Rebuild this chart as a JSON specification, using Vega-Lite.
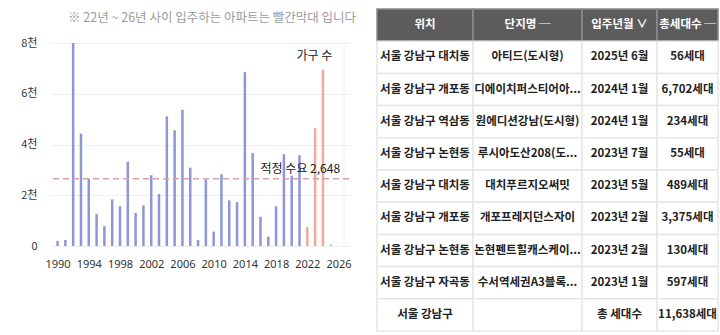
{
  "$schema": "https://vega.github.io/schema/vega-lite/v6.json",
  "background": "white",
  "padding": {"left": 20, "top": 8, "right": 0, "bottom": 0},
  "config": {
    "font": "Noto Sans CJK KR",
    "view": {"stroke": null}
  },
  "datasets": {
    "supply": [
      {"연도": 1990, "가구수": 200},
      {"연도": 1991, "가구수": 240},
      {"연도": 1992, "가구수": 8000},
      {"연도": 1993, "가구수": 4430},
      {"연도": 1994, "가구수": 2640},
      {"연도": 1995, "가구수": 1260},
      {"연도": 1996, "가구수": 780},
      {"연도": 1997, "가구수": 1840},
      {"연도": 1998, "가구수": 1570},
      {"연도": 1999, "가구수": 3320},
      {"연도": 2000, "가구수": 1300},
      {"연도": 2001, "가구수": 1600},
      {"연도": 2002, "가구수": 2790},
      {"연도": 2003, "가구수": 2050},
      {"연도": 2004, "가구수": 5110},
      {"연도": 2005, "가구수": 4560},
      {"연도": 2006, "가구수": 5370},
      {"연도": 2007, "가구수": 3090},
      {"연도": 2008, "가구수": 240},
      {"연도": 2009, "가구수": 2620},
      {"연도": 2010, "가구수": 570},
      {"연도": 2011, "가구수": 2830},
      {"연도": 2012, "가구수": 1800},
      {"연도": 2013, "가구수": 1730},
      {"연도": 2014, "가구수": 6850},
      {"연도": 2015, "가구수": 3660},
      {"연도": 2016, "가구수": 1150},
      {"연도": 2017, "가구수": 370},
      {"연도": 2018, "가구수": 1570},
      {"연도": 2019, "가구수": 3620},
      {"연도": 2020, "가구수": 2770},
      {"연도": 2021, "가구수": 3580},
      {"연도": 2022, "가구수": 740},
      {"연도": 2023, "가구수": 4646},
      {"연도": 2024, "가구수": 6936},
      {"연도": 2025, "가구수": 56}
    ],
    "complex": [
      {"행": 0, "구분": "header", "위치": "위치", "단지명": "단지명 ─", "입주년월": "입주년월 ∨", "총세대수": "총세대수 ─"},
      {"행": 1, "구분": "body", "위치": "서울 강남구 대치동", "단지명": "아티드(도시형)", "입주년월": "2025년 6월", "총세대수": "56세대"},
      {"행": 2, "구분": "body", "위치": "서울 강남구 개포동", "단지명": "디에이치퍼스티어아...", "입주년월": "2024년 1월", "총세대수": "6,702세대"},
      {"행": 3, "구분": "body", "위치": "서울 강남구 역삼동", "단지명": "원에디션강남(도시형)", "입주년월": "2024년 1월", "총세대수": "234세대"},
      {"행": 4, "구분": "body", "위치": "서울 강남구 논현동", "단지명": "루시아도산208(도...", "입주년월": "2023년 7월", "총세대수": "55세대"},
      {"행": 5, "구분": "body", "위치": "서울 강남구 대치동", "단지명": "대치푸르지오써밋", "입주년월": "2023년 5월", "총세대수": "489세대"},
      {"행": 6, "구분": "body", "위치": "서울 강남구 개포동", "단지명": "개포프레지던스자이", "입주년월": "2023년 2월", "총세대수": "3,375세대"},
      {"행": 7, "구분": "body", "위치": "서울 강남구 논현동", "단지명": "논현펜트힐캐스케이...", "입주년월": "2023년 2월", "총세대수": "130세대"},
      {"행": 8, "구분": "body", "위치": "서울 강남구 자곡동", "단지명": "수서역세권A3블록...", "입주년월": "2023년 1월", "총세대수": "597세대"},
      {"행": 9, "구분": "total", "위치": "서울 강남구", "단지명": "", "입주년월": "총 세대수", "총세대수": "11,638세대"}
    ]
  },
  "spacing": 19,
  "hconcat": [
    {
      "width": 298,
      "height": 237,
      "title": {
        "text": "※ 22년 ~ 26년 사이 입주하는 아파트는 빨간막대 입니다",
        "anchor": "end",
        "dx": 5,
        "offset": -15,
        "fontSize": 12.5,
        "fontWeight": "normal",
        "color": "#9a9a9a"
      },
      "encoding": {
        "x": {
          "type": "quantitative",
          "scale": {"domain": [1989.8, 2026.7], "nice": false, "zero": false},
          "axis": {
            "title": null,
            "values": [1990, 1994, 1998, 2002, 2006, 2010, 2014, 2018, 2022, 2026],
            "format": "d",
            "grid": false,
            "domain": false,
            "ticks": false,
            "labelOverlap": false,
            "labelPadding": 12,
            "labelFontSize": 11,
            "labelColor": "#333333",
            "labelFont": "Noto Sans"
          }
        },
        "y": {
          "type": "quantitative",
          "scale": {"domain": [0, 9340], "nice": false},
          "axis": {
            "title": null,
            "values": [0, 2000, 4000, 6000, 8000],
            "labelExpr": "datum.value == 0 ? '0' : (datum.value / 1000) + '천'",
            "grid": true,
            "gridColor": "#eeeeee",
            "domain": false,
            "ticks": false,
            "labelPadding": 14,
            "minExtent": 29,
            "maxExtent": 29,
            "labelFontSize": 11,
            "labelColor": "#333333"
          }
        }
      },
      "layer": [
        {
          "data": {"name": "supply"},
          "mark": {"type": "bar", "size": 2.5},
          "encoding": {
            "x": {"field": "연도", "type": "quantitative"},
            "y": {"field": "가구수", "type": "quantitative"},
            "color": {
              "condition": {"test": "datum['연도'] >= 2022", "value": "#ecab9c"},
              "value": "#8d96d9"
            }
          }
        },
        {
          "data": {"values": [{"구분": "테두리"}]},
          "mark": {"type": "rule", "color": "#eeeeee", "strokeWidth": 1},
          "encoding": {
            "x": {"datum": 2026.7, "type": "quantitative"},
            "y": {"datum": 0, "type": "quantitative"},
            "y2": {"datum": 8000}
          }
        },
        {
          "data": {"values": [{"이름": "적정 수요", "값": 2648}]},
          "mark": {"type": "rule", "color": "#d4a3a3", "strokeDash": [6, 4], "strokeWidth": 1.5},
          "encoding": {
            "x": null,
            "y": {"field": "값", "type": "quantitative"}
          }
        },
        {
          "data": {"values": [{"이름": "적정 수요", "값": 2648}]},
          "mark": {"type": "text", "align": "right", "baseline": "bottom", "dy": -3, "fontSize": 12, "color": "#222222"},
          "encoding": {
            "x": {"datum": 2026.2, "type": "quantitative"},
            "y": {"field": "값", "type": "quantitative"},
            "text": {"value": "적정 수요 2,648"}
          }
        },
        {
          "data": {"values": [{"이름": "가구 수"}]},
          "mark": {"type": "text", "align": "right", "baseline": "middle", "fontSize": 12, "color": "#222222"},
          "encoding": {
            "x": {"datum": 2025.2, "type": "quantitative"},
            "y": {"datum": 7500, "type": "quantitative"},
            "text": {"field": "이름"}
          }
        }
      ]
    },
    {
      "spacing": 0,
      "bounds": "flush",
      "hconcat": [
        {
          "width": 96, "height": 322,
          "data": {"name": "complex"},
          "encoding": {
            "y": {"field": "행", "type": "ordinal", "scale": {"paddingInner": 0, "paddingOuter": 0}, "axis": null}
          },
          "layer": [
            {
              "mark": {"type": "rect", "strokeWidth": 1.5},
              "encoding": {
                "x": {"datum": 0, "type": "quantitative", "scale": {"domain": [0, 1]}, "axis": null},
                "x2": {"datum": 1},
                "fill": {"condition": {"test": "datum['구분'] == 'header'", "value": "#5c5c5c"}, "value": "#ffffff"},
                "stroke": {"condition": {"test": "datum['구분'] == 'header'", "value": "#8a8a8a"}, "value": "#e6e6e6"}
              }
            },
            {
              "mark": {"type": "text", "fontSize": 11.5, "fontWeight": "bold", "baseline": "middle", "align": "center"},
              "encoding": {
                "x": {"datum": 0.5, "type": "quantitative", "scale": {"domain": [0, 1]}, "axis": null},
                "text": {"field": "위치"},
                "color": {"condition": {"test": "datum['구분'] == 'header'", "value": "#ffffff"}, "value": "#222222"}
              }
            }
          ]
        },
        {
          "width": 109, "height": 322,
          "data": {"name": "complex"},
          "encoding": {
            "y": {"field": "행", "type": "ordinal", "scale": {"paddingInner": 0, "paddingOuter": 0}, "axis": null}
          },
          "layer": [
            {
              "mark": {"type": "rect", "strokeWidth": 1.5},
              "encoding": {
                "x": {"datum": 0, "type": "quantitative", "scale": {"domain": [0, 1]}, "axis": null},
                "x2": {"datum": 1},
                "fill": {"condition": {"test": "datum['구분'] == 'header'", "value": "#5c5c5c"}, "value": "#ffffff"},
                "stroke": {"condition": {"test": "datum['구분'] == 'header'", "value": "#8a8a8a"}, "value": "#e6e6e6"}
              }
            },
            {
              "mark": {"type": "text", "fontSize": 11.5, "fontWeight": "bold", "baseline": "middle", "align": "center"},
              "encoding": {
                "x": {"datum": 0.5, "type": "quantitative", "scale": {"domain": [0, 1]}, "axis": null},
                "text": {"field": "단지명"},
                "color": {"condition": {"test": "datum['구분'] == 'header'", "value": "#ffffff"}, "value": "#222222"}
              }
            }
          ]
        },
        {
          "width": 75, "height": 322,
          "data": {"name": "complex"},
          "encoding": {
            "y": {"field": "행", "type": "ordinal", "scale": {"paddingInner": 0, "paddingOuter": 0}, "axis": null}
          },
          "layer": [
            {
              "mark": {"type": "rect", "strokeWidth": 1.5},
              "encoding": {
                "x": {"datum": 0, "type": "quantitative", "scale": {"domain": [0, 1]}, "axis": null},
                "x2": {"datum": 1},
                "fill": {"condition": {"test": "datum['구분'] == 'header'", "value": "#5c5c5c"}, "value": "#ffffff"},
                "stroke": {"condition": {"test": "datum['구분'] == 'header'", "value": "#8a8a8a"}, "value": "#e6e6e6"}
              }
            },
            {
              "mark": {"type": "text", "fontSize": 11.5, "fontWeight": "bold", "baseline": "middle", "align": "center"},
              "encoding": {
                "x": {"datum": 0.5, "type": "quantitative", "scale": {"domain": [0, 1]}, "axis": null},
                "text": {"field": "입주년월"},
                "color": {"condition": {"test": "datum['구분'] == 'header'", "value": "#ffffff"}, "value": "#222222"}
              }
            }
          ]
        },
        {
          "width": 61, "height": 322,
          "data": {"name": "complex"},
          "encoding": {
            "y": {"field": "행", "type": "ordinal", "scale": {"paddingInner": 0, "paddingOuter": 0}, "axis": null}
          },
          "layer": [
            {
              "mark": {"type": "rect", "strokeWidth": 1.5},
              "encoding": {
                "x": {"datum": 0, "type": "quantitative", "scale": {"domain": [0, 1]}, "axis": null},
                "x2": {"datum": 1},
                "fill": {"condition": {"test": "datum['구분'] == 'header'", "value": "#5c5c5c"}, "value": "#ffffff"},
                "stroke": {"condition": {"test": "datum['구분'] == 'header'", "value": "#8a8a8a"}, "value": "#e6e6e6"}
              }
            },
            {
              "mark": {"type": "text", "fontSize": 11.5, "fontWeight": "bold", "baseline": "middle", "align": "center"},
              "encoding": {
                "x": {"datum": 0.5, "type": "quantitative", "scale": {"domain": [0, 1]}, "axis": null},
                "text": {"field": "총세대수"},
                "color": {"condition": {"test": "datum['구분'] == 'header'", "value": "#ffffff"}, "value": "#222222"}
              }
            }
          ]
        }
      ]
    }
  ]
}
